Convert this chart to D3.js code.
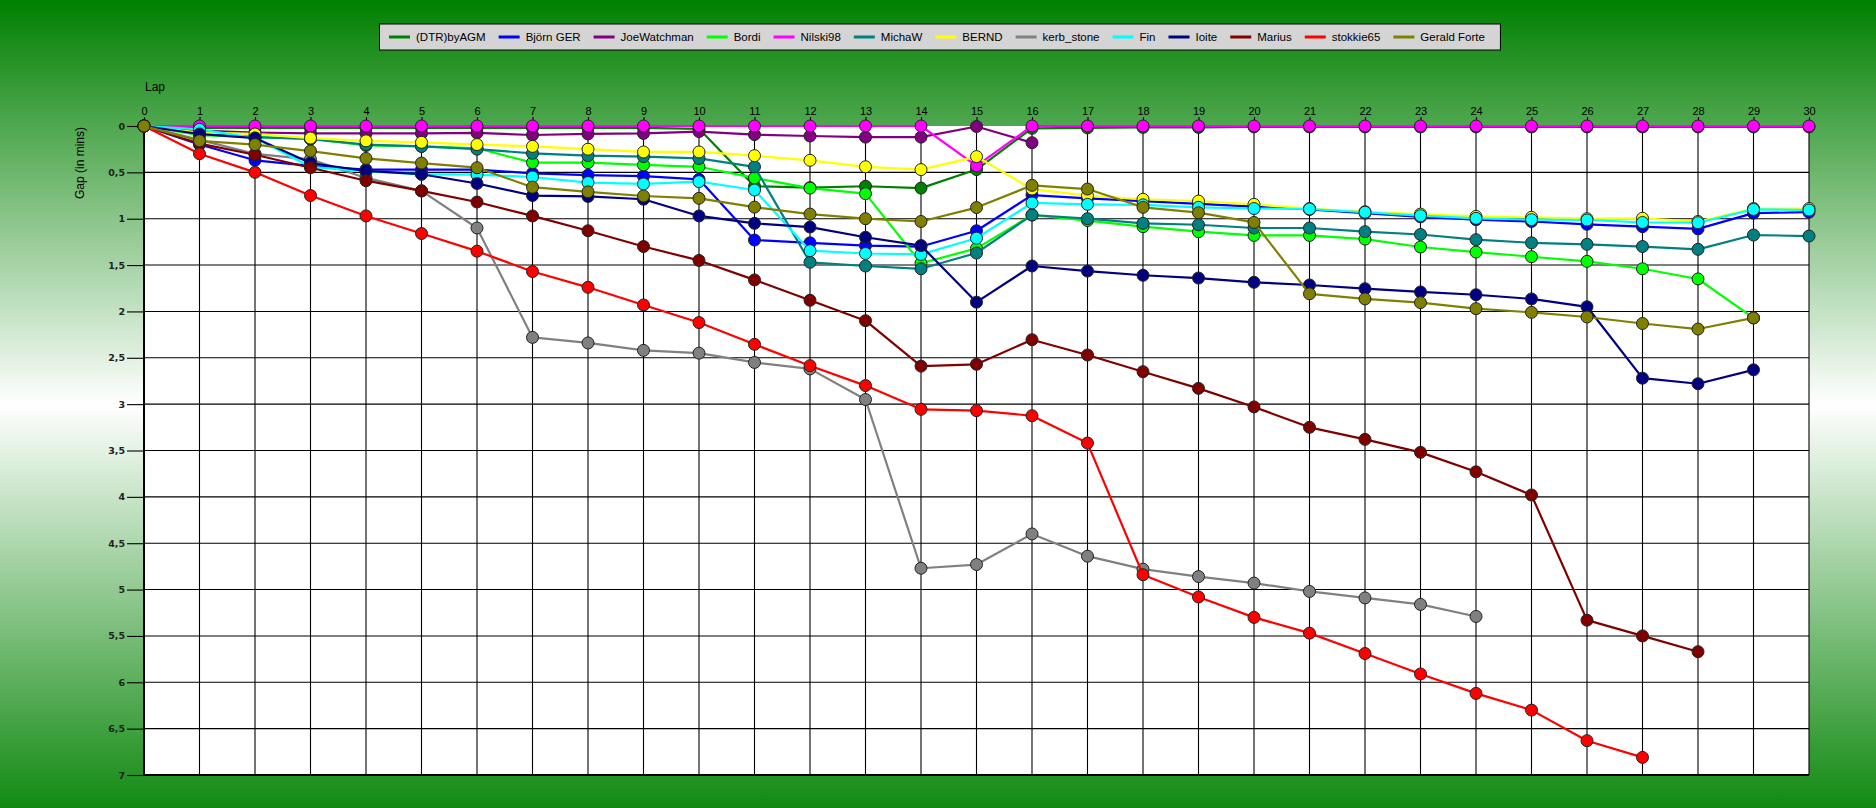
<!DOCTYPE html>
<html>
<head>
<meta charset="utf-8">
<script src="https://cdn.jsdelivr.net/npm/d3@7"></script>
<style>
  body { margin: 0; padding: 0; overflow: hidden; }
  svg { display: block; font-family: "Liberation Sans", Arial, sans-serif; }
</style>
</head>
<body>
<svg id="chart"></svg>
<script>
const width = 1876;
const height = 808;

// lap numbers on the top axis
const laps = [0,1,2,3,4,5,6,7,8,9,10,11,12,13,14,15,16,17,18,19,20,21,22,23,24,25,26,27,28,29,30];
const gapTicks = [0,0.5,1,1.5,2,2.5,3,3.5,4,4.5,5,5.5,6,6.5,7];

const drivers = ["(DTR)byAGM","Björn GER","JoeWatchman","Bordi","Nilski98","MichaW","BERND","kerb_stone","Fin","Ioite","Marius","stokkie65","Gerald Forte"];
const colors  = ["#008000","#0000ff","#800080","#00ff00","#ff00ff","#008080","#ffff00","#808080","#00ffff","#000080","#800000","#ff0000","#808000"];

// gap to leader in minutes, lap 0 onwards
const dtr     = [0,0.02,0.02,0.02,0.02,0.02,0.02,0.02,0.02,0.02,0.03,0.65,0.665,0.65,0.67,0.47,0.025,0.02,0.015,0.015,0.01,0.01,0.01,0.01,0.01,0.01,0.01,0.01,0.01,0.01,0.01];
const bjorn   = [0,0.2,0.37,0.43,0.47,0.47,0.47,0.51,0.53,0.54,0.575,1.23,1.26,1.29,1.3,1.13,0.745,0.78,0.81,0.84,0.87,0.9,0.94,0.98,1.01,1.03,1.06,1.086,1.11,0.94,0.93];
const joe     = [0,0.05,0.07,0.08,0.08,0.08,0.075,0.097,0.086,0.08,0.06,0.093,0.108,0.12,0.12,0.005,0.18];
const bordi   = [0,0.1,0.12,0.14,0.21,0.22,0.24,0.395,0.395,0.42,0.44,0.56,0.67,0.73,1.48,1.32,0.96,1.02,1.086,1.14,1.18,1.18,1.22,1.305,1.36,1.41,1.46,1.54,1.65,2.07];
const nilski  = [0,0,0,0,0,0,0,0,0,0,0,0,0,0,0,0.43,0,0,0,0,0,0,0,0,0,0,0,0,0,0,0];
const michaw  = [0,0.08,0.12,0.14,0.2,0.22,0.25,0.295,0.32,0.33,0.35,0.44,1.47,1.51,1.54,1.37,0.96,1.0,1.05,1.065,1.1,1.1,1.14,1.17,1.226,1.26,1.276,1.3,1.33,1.176,1.187];
const bernd   = [0,0.07,0.086,0.13,0.16,0.176,0.2,0.22,0.25,0.28,0.28,0.32,0.37,0.44,0.47,0.33,0.68,0.75,0.79,0.81,0.845,0.89,0.925,0.95,0.975,0.985,1.0,0.995,1.03,0.89,0.89];
const kerb    = [0,0.15,0.3,0.36,0.56,0.7,1.1,2.28,2.34,2.42,2.45,2.55,2.62,2.95,4.77,4.73,4.4,4.64,4.78,4.86,4.93,5.02,5.09,5.16,5.29];
const fin     = [0,0.036,0.13,0.44,0.49,0.52,0.525,0.55,0.61,0.625,0.6,0.69,1.345,1.375,1.385,1.21,0.83,0.845,0.85,0.877,0.89,0.895,0.93,0.967,0.996,1.01,1.014,1.04,1.043,0.9,0.906];
const ioite   = [0,0.086,0.13,0.4,0.485,0.52,0.62,0.75,0.76,0.79,0.97,1.05,1.09,1.2,1.29,1.9,1.51,1.565,1.61,1.64,1.686,1.715,1.755,1.79,1.82,1.865,1.95,2.72,2.78,2.63];
const marius  = [0,0.19,0.31,0.45,0.59,0.7,0.82,0.97,1.13,1.3,1.45,1.66,1.88,2.1,2.59,2.57,2.305,2.47,2.65,2.83,3.03,3.25,3.38,3.52,3.73,3.98,5.33,5.5,5.67];
const stokkie = [0,0.3,0.5,0.75,0.97,1.16,1.35,1.57,1.74,1.93,2.12,2.355,2.585,2.8,3.056,3.07,3.125,3.42,4.84,5.08,5.3,5.47,5.69,5.91,6.12,6.3,6.63,6.81];
const gerald  = [0,0.16,0.2,0.27,0.35,0.4,0.45,0.66,0.71,0.755,0.78,0.875,0.95,1.0,1.03,0.88,0.64,0.68,0.877,0.935,1.04,1.81,1.865,1.905,1.97,2.01,2.06,2.13,2.19,2.07];

const gaps = [dtr, bjorn, joe, bordi, nilski, michaw, bernd, kerb, fin, ioite, marius, stokkie, gerald];

const series = drivers.map((name, i) => ({
  name: name,
  color: colors[i],
  values: gaps[i].map((v, lap) => ({lap: laps[lap], gap: v}))
}));

const svg = d3.select("#chart")
  .attr("width", width)
  .attr("height", height);

// green - white - green backdrop
const grad = svg.append("defs").append("linearGradient")
  .attr("id", "bg")
  .attr("x1", 0).attr("y1", 0).attr("x2", 0).attr("y2", 1);
grad.append("stop").attr("offset", "0%").attr("stop-color", "#008000");
grad.append("stop").attr("offset", "50%").attr("stop-color", "#ffffff");
grad.append("stop").attr("offset", "100%").attr("stop-color", "#128a12");

svg.append("rect")
  .attr("width", width)
  .attr("height", height)
  .attr("fill", "url(#bg)");

const x = d3.scaleLinear().domain([0, 30]).range([144, 1809]);
const y = d3.scaleLinear().domain([0, 7]).range([126, 775]);

// plot area
svg.append("rect")
  .attr("x", x(0))
  .attr("y", y(0))
  .attr("width", x(30) - x(0))
  .attr("height", y(7) - y(0))
  .attr("fill", "#ffffff");

// horizontal grid
svg.append("g")
  .selectAll("line")
  .data(gapTicks.filter(d => d > 0))
  .join("line")
  .attr("x1", x(0))
  .attr("x2", x(30))
  .attr("y1", d => y(d))
  .attr("y2", d => y(d))
  .attr("stroke", "#000")
  .attr("stroke-width", d => d === 7 ? 2 : 1.1);

// vertical grid
svg.append("g")
  .selectAll("line")
  .data(laps)
  .join("line")
  .attr("x1", d => x(d))
  .attr("x2", d => x(d))
  .attr("y1", y(0))
  .attr("y2", y(7))
  .attr("stroke", "#000")
  .attr("stroke-width", d => d === 0 ? 2 : 1.1);

// top axis (laps)
const xAxis = svg.append("g")
  .attr("transform", `translate(0,${y(0)})`)
  .call(d3.axisTop(x).tickValues(laps).tickSize(9).tickSizeOuter(0).tickPadding(2).tickFormat(d3.format("d")));
xAxis.select(".domain").remove();
xAxis.selectAll(".tick line").attr("stroke", "#000").attr("stroke-width", 1.1);
xAxis.selectAll(".tick text")
  .attr("font-size", 11)
  .attr("font-family", "Liberation Sans, Arial, sans-serif")
  .attr("fill", "#000");

// left axis (gap)
const yAxis = svg.append("g")
  .attr("transform", `translate(${x(0)},0)`)
  .call(d3.axisLeft(y).tickValues(gapTicks).tickSize(17).tickSizeOuter(0).tickPadding(2)
    .tickFormat(d => String(d).replace(".", ",")));
yAxis.select(".domain").remove();
yAxis.selectAll(".tick line").attr("stroke", "#000").attr("stroke-width", 1.1);
yAxis.selectAll(".tick text")
  .attr("font-size", 9.5)
  .attr("font-weight", "bold")
  .attr("font-family", "DejaVu Sans, sans-serif")
  .attr("fill", "#222");

svg.append("text")
  .attr("x", 155)
  .attr("y", 91)
  .attr("text-anchor", "middle")
  .attr("font-size", 12)
  .attr("fill", "#000")
  .text("Lap");

svg.append("text")
  .attr("transform", "translate(84,163) rotate(-90)")
  .attr("text-anchor", "middle")
  .attr("font-size", 12)
  .attr("fill", "#000")
  .text("Gap (in mins)");

// lines and markers
const line = d3.line()
  .x(d => x(d.lap))
  .y(d => y(d.gap));

const plot = svg.append("g");
series.forEach(s => {
  const g = plot.append("g");
  g.append("path")
    .datum(s.values)
    .attr("fill", "none")
    .attr("stroke", s.color)
    .attr("stroke-width", 2.2)
    .attr("stroke-linejoin", "round")
    .attr("d", line);
  g.selectAll("circle")
    .data(s.values)
    .join("circle")
    .attr("cx", d => x(d.lap))
    .attr("cy", d => y(d.gap))
    .attr("r", 6)
    .attr("fill", s.color)
    .attr("stroke", "#222")
    .attr("stroke-width", 1);
});

// legend
const legend = svg.append("g");
const legendBox = legend.append("rect")
  .attr("y", 24)
  .attr("height", 26)
  .attr("fill", "#d4d4d4")
  .attr("stroke", "#000")
  .attr("stroke-width", 1);

let cursor = 10;
const items = legend.append("g");
series.forEach(s => {
  const item = items.append("g").attr("transform", `translate(${cursor},0)`);
  item.append("line")
    .attr("x1", 0).attr("x2", 21)
    .attr("y1", 37).attr("y2", 37)
    .attr("stroke", s.color)
    .attr("stroke-width", 3);
  const t = item.append("text")
    .attr("x", 27)
    .attr("y", 41)
    .attr("font-size", 11.5)
    .attr("fill", "#000")
    .text(s.name);
  cursor += 27 + t.node().getComputedTextLength() + 13;
});
const boxWidth = cursor + 2;
const boxLeft = Math.round(939.5 - boxWidth / 2);
legendBox.attr("x", boxLeft + 0.5).attr("width", boxWidth);
items.attr("transform", `translate(${boxLeft},0)`);
</script>
</body>
</html>
